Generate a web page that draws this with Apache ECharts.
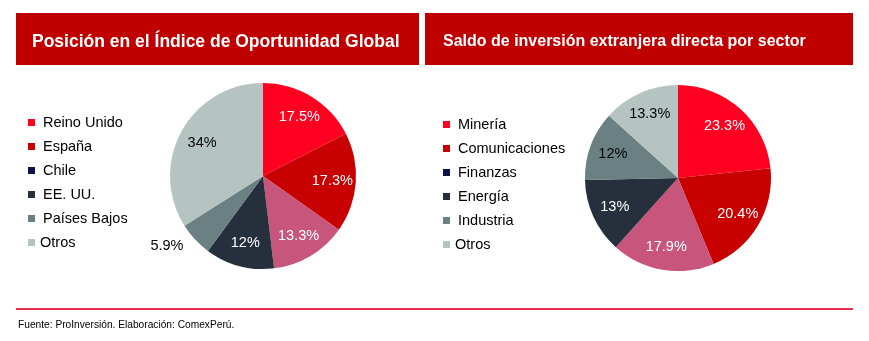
<!DOCTYPE html>
<html><head><meta charset="utf-8">
<script src="https://cdn.jsdelivr.net/npm/echarts@6/dist/echarts.min.js"></script>
<style>html,body{margin:0;padding:0;background:#fff}#c{width:869px;height:341px}</style>
</head><body><div id="c"></div>
<script>
const leftTitle = 'Posición en el Índice de Oportunidad Global';
const rightTitle = 'Saldo de inversión extranjera directa por sector';
const leftCats = ['Reino Unido', 'España', 'Chile', 'EE. UU.', 'Países Bajos', 'Otros'];
const leftVals = [17.5, 17.3, 13.3, 12, 5.9, 34];
const rightCats = ['Minería', 'Comunicaciones', 'Finanzas', 'Energía', 'Industria', 'Otros'];
const rightVals = [23.3, 20.4, 17.9, 13, 12, 13.3];
const footnote = 'Fuente: ProInversión. Elaboración: ComexPerú.';

const sliceColors = ['#ff0020', '#c80000', '#c8557b', '#262f3c', '#6a8083', '#b5c4c1'];
const legendColors = ['#ff0020', '#c80000', '#0b1347', '#262f3c', '#6a8083', '#b5c4c1'];
const labelColors = ['#fff', '#fff', '#fff', '#fff', '#000', '#000'];
const FONT = 'Liberation Sans, Arial, sans-serif';

function fmt(v) { return v + '%'; }

function pieSeries(cats, vals, center, outsideIdx) {
  const base = {
    type: 'pie', center: center, radius: [0, 93], startAngle: 90, clockwise: true,
    silent: true, label: { show: false }, labelLine: { show: false },
    emphasis: { disabled: true },
    data: cats.map((n, i) => ({ name: n, value: vals[i], itemStyle: { color: sliceColors[i] } }))
  };
  const overlay = {
    type: 'pie', center: center, radius: [40, 93], startAngle: 90, clockwise: true,
    silent: true, emphasis: { disabled: true },
    itemStyle: { color: 'rgba(0,0,0,0)' },
    labelLine: { show: false, length: 9, length2: 0 },
    data: cats.map((n, i) => {
      const d = { name: n, value: vals[i],
        label: { show: true, position: 'inside', formatter: fmt(vals[i]), color: labelColors[i],
          fontSize: 14.5, fontFamily: FONT } };
      if (i === outsideIdx) { d.label.position = 'outside'; d.label.color = '#000'; }
      return d;
    })
  };
  return [base, overlay];
}

function legend(cats, left, top) {
  return {
    orient: 'vertical', left: left, top: top, padding: 0, icon: 'rect', itemWidth: 7, itemHeight: 7,
    itemGap: 9, selectedMode: false,
    textStyle: { fontSize: 14.5, fontFamily: FONT, color: '#000', lineHeight: 15, padding: [0, 0, 0, 3] },
    data: cats.map((n, i) => ({ name: n, itemStyle: { color: legendColors[i] },
      textStyle: i === cats.length - 1 ? { padding: [0, 0, 0, 0] } : undefined }))
  };
}

const chart = echarts.init(document.getElementById('c'), null, { renderer: 'canvas' });
chart.setOption({
  backgroundColor: '#fff',
  animation: false,
  title: [
    { text: leftTitle, left: 32, top: 33, padding: 0, textStyle: { color: '#fff', fontSize: 17.5, fontWeight: 'bold', fontFamily: FONT } },
    { text: rightTitle, left: 443, top: 34, padding: 0, textStyle: { color: '#fff', fontSize: 16, fontWeight: 'bold', fontFamily: FONT } },
    { text: footnote, left: 18, top: 320, padding: 0, textStyle: { color: '#000', fontSize: 10.2, fontWeight: 'normal', fontFamily: FONT } }
  ],
  graphic: [
    { type: 'rect', z: -1, shape: { x: 16, y: 13, width: 403, height: 52 }, style: { fill: '#c00000' } },
    { type: 'rect', z: -1, shape: { x: 425, y: 13, width: 428, height: 52 }, style: { fill: '#c00000' } },
    { type: 'rect', shape: { x: 16, y: 308, width: 837, height: 2 }, style: { fill: '#e62e4a' } }
  ],
  legend: [legend(leftCats, 28, 115), legend(rightCats, 443, 117)],
  series: [
    ...pieSeries(leftCats, leftVals, [263, 176], 4),
    ...pieSeries(rightCats, rightVals, [678, 178], -1)
  ]
});
</script></body></html>
